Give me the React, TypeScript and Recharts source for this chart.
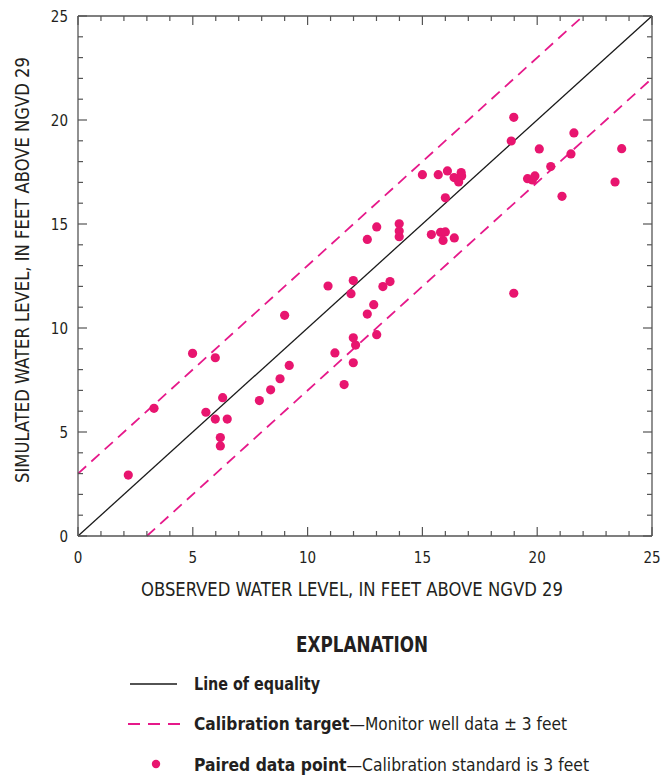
import React from 'react';
import { ScatterChart, Scatter, XAxis, YAxis, ReferenceLine } from 'recharts';

// ---- data ----
const observed = [
  2.19, 3.31, 4.99, 5.98, 5.57, 5.98, 6.3, 6.5, 6.2, 6.2,
  7.9, 8.39, 8.8, 9.0, 9.2, 10.89, 11.99, 11.89, 11.99, 12.09,
  11.19, 11.99, 11.59, 13.28, 13.59, 12.88, 12.6, 13.01, 18.98, 18.98,
  18.87, 20.09, 21.6, 21.47, 23.68, 20.59, 19.58, 19.79, 19.9, 21.08,
  23.39, 15.0, 15.69, 16.09, 16.38, 16.69, 16.71, 16.58, 16.0, 12.6,
  13.01, 13.99, 13.99, 13.99, 15.39, 15.79, 16.0, 15.9, 16.39,
];
const simulated = [
  2.93, 6.14, 8.78, 8.57, 5.95, 5.62, 6.65, 5.62, 4.73, 4.33,
  6.51, 7.03, 7.56, 10.61, 8.2, 12.02, 12.28, 11.65, 9.53, 9.18,
  8.8, 8.33, 7.28, 11.99, 12.23, 11.12, 10.67, 9.68, 11.67, 20.13,
  18.99, 18.61, 19.38, 18.37, 18.62, 17.76, 17.18, 17.12, 17.31, 16.33,
  17.02, 17.37, 17.37, 17.55, 17.23, 17.47, 17.31, 17.02, 16.26, 14.26,
  14.86, 15.01, 14.66, 14.39, 14.49, 14.6, 14.62, 14.21, 14.33,
];
const tickValues = [0, 1, 2, 3, 4, 5, 6, 7, 8, 9, 10, 11, 12, 13, 14, 15, 16, 17, 18, 19, 20, 21, 22, 23, 24, 25];
const tickLabels = ['0', '5', '10', '15', '20', '25'];
const equalityLine = [{ x: 0, y: 0 }, { x: 25, y: 25 }];
const upperTarget = [{ x: 0, y: 3 }, { x: 22, y: 25 }];
const lowerTarget = [{ x: 3, y: 0 }, { x: 25, y: 22 }];

const points = observed.map((x, i) => ({ x, y: simulated[i] }));

const AXIS_COLOR = '#555555';
const DOT_COLOR = '#e8156f';
const DASH_COLOR = '#e6198a';
const TEXT_COLOR = '#231f20';
const FONT = "'Liberation Sans Narrow', 'DejaVu Sans Condensed', 'Liberation Sans', Arial, sans-serif";

const makeTick = (side: 'bottom' | 'top' | 'left' | 'right') => (props: any) => {
  const { x, y, payload } = props;
  const v = Number(payload.value);
  const major = v % 5 === 0;
  const len = major ? 9 : 5;
  let x2 = x;
  let y2 = y;
  if (side === 'bottom') y2 = y - len;
  if (side === 'top') y2 = y + len;
  if (side === 'left') x2 = x + len;
  if (side === 'right') x2 = x - len;
  const label = major ? tickLabels[v / 5] : null;
  return (
    <g>
      <line x1={x} y1={y} x2={x2} y2={y2} stroke={AXIS_COLOR} strokeWidth={1.2} />
      {label !== null && side === 'bottom' && (
        <text x={x} y={y + 27} textAnchor="middle" fontSize={15} fill={TEXT_COLOR} fontFamily={FONT}>
          {label}
        </text>
      )}
      {label !== null && side === 'left' && (
        <text x={x - 10} y={y + 5.5} textAnchor="end" fontSize={15} fill={TEXT_COLOR} fontFamily={FONT}>
          {label}
        </text>
      )}
    </g>
  );
};

const Dot = (props: any) => <circle cx={props.cx} cy={props.cy} r={4.6} fill={DOT_COLOR} />;
const NoDot = () => <g />;

export default function App() {
  return (
    <div style={{ position: 'absolute', left: 0, top: 0, width: 667, height: 777, background: '#fff' }}>
      <ScatterChart width={667} height={777} margin={{ top: 15, right: 14, bottom: 240, left: 77 }}>
        <XAxis
          xAxisId="b" type="number" dataKey="x" domain={[0, 25]} ticks={tickValues} interval={0}
          height={1} tickSize={0} tickMargin={0} tickLine={false}
          axisLine={{ stroke: AXIS_COLOR, strokeWidth: 1.3 }} tick={makeTick('bottom')} allowDataOverflow
        />
        <XAxis
          xAxisId="t" orientation="top" type="number" dataKey="x" domain={[0, 25]} ticks={tickValues} interval={0}
          height={1} tickSize={0} tickMargin={0} tickLine={false}
          axisLine={{ stroke: AXIS_COLOR, strokeWidth: 1.3 }} tick={makeTick('top')} allowDataOverflow
        />
        <YAxis
          yAxisId="l" type="number" dataKey="y" domain={[0, 25]} ticks={tickValues} interval={0}
          width={1} tickSize={0} tickMargin={0} tickLine={false}
          axisLine={{ stroke: AXIS_COLOR, strokeWidth: 1.3 }} tick={makeTick('left')} allowDataOverflow
        />
        <YAxis
          yAxisId="r" orientation="right" type="number" dataKey="y" domain={[0, 25]} ticks={tickValues} interval={0}
          width={1} tickSize={0} tickMargin={0} tickLine={false}
          axisLine={{ stroke: AXIS_COLOR, strokeWidth: 1.3 }} tick={makeTick('right')} allowDataOverflow
        />
        <ReferenceLine xAxisId="b" yAxisId="l" segment={upperTarget} stroke={DASH_COLOR} strokeWidth={1.8} strokeDasharray="11 7" />
        <ReferenceLine xAxisId="b" yAxisId="l" segment={lowerTarget} stroke={DASH_COLOR} strokeWidth={1.8} strokeDasharray="11 7" />
        <ReferenceLine xAxisId="b" yAxisId="l" segment={equalityLine} stroke="#1a1a1a" strokeWidth={1.3} />
        <Scatter xAxisId="t" yAxisId="r" data={points} shape={NoDot} isAnimationActive={false} />
        <Scatter xAxisId="b" yAxisId="l" data={points} shape={Dot} isAnimationActive={false} />
      </ScatterChart>
      <svg width={667} height={777} style={{ position: 'absolute', left: 0, top: 0, pointerEvents: 'none' }}>
        <text
          x={352} y={596} textAnchor="middle" fontSize={19} fill={TEXT_COLOR} fontFamily={FONT}
          textLength={422} lengthAdjust="spacingAndGlyphs"
        >
          OBSERVED WATER LEVEL, IN FEET ABOVE NGVD 29
        </text>
        <text
          transform="translate(29, 270) rotate(-90)" x={0} y={0} textAnchor="middle" fontSize={19} fill={TEXT_COLOR}
          fontFamily={FONT} textLength={426} lengthAdjust="spacingAndGlyphs"
        >
          SIMULATED WATER LEVEL, IN FEET ABOVE NGVD 29
        </text>
        <text
          x={362} y={652} textAnchor="middle" fontSize={22} fontWeight="bold" fill={TEXT_COLOR} fontFamily={FONT}
          textLength={132} lengthAdjust="spacingAndGlyphs"
        >
          EXPLANATION
        </text>
        <line x1={130} y1={684} x2={177} y2={684} stroke="#1a1a1a" strokeWidth={1.3} />
        <text x={194} y={690} fontSize={18} fontWeight="bold" fill={TEXT_COLOR} fontFamily={FONT}
          textLength={126} lengthAdjust="spacingAndGlyphs">
          Line of equality
        </text>
        <line x1={128} y1={724} x2={180} y2={724} stroke={DASH_COLOR} strokeWidth={1.8} strokeDasharray="12 8" />
        <text x={194} y={730} fontSize={18} fill={TEXT_COLOR} fontFamily={FONT}
          textLength={373} lengthAdjust="spacingAndGlyphs">
          <tspan fontWeight="bold">Calibration target</tspan>
          <tspan>—Monitor well data ± 3 feet</tspan>
        </text>
        <circle cx={156} cy={764} r={4.2} fill={DOT_COLOR} />
        <text x={194} y={771} fontSize={18} fill={TEXT_COLOR} fontFamily={FONT}
          textLength={395} lengthAdjust="spacingAndGlyphs">
          <tspan fontWeight="bold">Paired data point</tspan>
          <tspan>—Calibration standard is 3 feet</tspan>
        </text>
      </svg>
    </div>
  );
}
